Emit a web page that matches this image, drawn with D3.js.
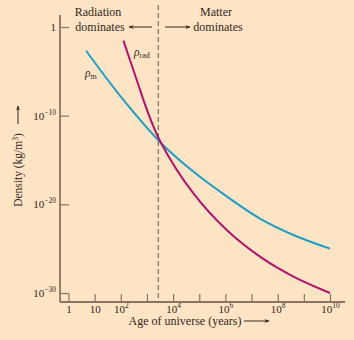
<!DOCTYPE html>
<html>
<head>
<meta charset="utf-8">
<script src="https://cdn.jsdelivr.net/npm/d3@7"></script>
<style>
  body { margin: 0; background: #fde4c4; }
  text { font-family: "Liberation Serif", "DejaVu Serif", serif; }
</style>
</head>
<body>
<div id="chart"></div>
<script>
// values: age in years, density in kg/m^3
const matterAge = [4.7, 126, 3.5e3, 5.9e4, 1.12e6, 2.1e7, 4e8, 1e10];
const matterDensity = [2.1e-3, 5.9e-9, 7.9e-14, 5e-17, 7.9e-20, 2.5e-22, 3.5e-24, 1e-25];
const radAge = [126, 407, 1.12e3, 3.5e3, 5.9e4, 1.12e6, 2.1e7, 4e8, 1e10];
const radDensity = [2.9e-2, 1.05e-6, 1.86e-10, 7.9e-14, 1.8e-19, 1.26e-23, 1.26e-26, 7.1e-29, 1e-30];
const equalityAge = 2.7e3;

const xTicks = [1, 1e1, 1e2, 1e3, 1e4, 1e5, 1e6, 1e7, 1e8, 1e9, 1e10];
const xTickLabels = [["1", ""], ["10", ""], ["10", "2"], ["", ""], ["10", "4"], ["", ""],
                     ["10", "6"], ["", ""], ["10", "8"], ["", ""], ["10", "10"]];
const yTicks = [1, 1e-10, 1e-20, 1e-30];
const yTickLabels = [["1", ""], ["10", "\u221210"], ["10", "\u221220"], ["10", "\u221230"]];

const width = 354, height = 340;
const bg = "#fde4c4", axisColor = "#8a7363", ink = "#35261e";

const svg = d3.select("#chart").append("svg")
  .attr("width", width).attr("height", height);

svg.append("rect").attr("width", width).attr("height", height).attr("fill", bg);

const defs = svg.append("defs");
defs.append("marker").attr("id", "head")
  .attr("viewBox", "0 0 10 10").attr("refX", 9).attr("refY", 5)
  .attr("markerWidth", 7).attr("markerHeight", 5).attr("orient", "auto")
  .append("path").attr("d", "M0,1 L10,5 L0,9 L3,5 Z").attr("fill", ink);

const x = d3.scaleLog().domain([1, 1e10]).range([68.5, 330]);
const y = d3.scaleLog().domain([1, 1e-30]).range([27, 293]);

// superscript helper
function supText(sel, parts) {
  sel.text(null);
  sel.append("tspan").text(parts[0]);
  if (parts[1]) sel.append("tspan").attr("dy", -5).attr("font-size", 7.5).text(parts[1]);
}

// x axis
const gx = svg.append("g").attr("transform", "translate(0,302)")
  .call(d3.axisBottom(x).tickValues(xTicks).tickSizeInner(-8).tickSizeOuter(0).tickPadding(3));
gx.select(".domain").remove();
gx.selectAll("line").attr("stroke", axisColor).attr("stroke-width", 1.2);
gx.selectAll("text").attr("font-size", 11).attr("fill", ink)
  .each(function (d, i) { supText(d3.select(this), xTickLabels[i]); });

// y axis
const gy = svg.append("g").attr("transform", "translate(60,0)")
  .call(d3.axisLeft(y).tickValues(yTicks).tickSizeInner(-9).tickSizeOuter(0).tickPadding(4));
gy.select(".domain").remove();
gy.selectAll("line").attr("stroke", axisColor).attr("stroke-width", 1.2);
gy.selectAll("text").attr("font-size", 11).attr("fill", ink)
  .each(function (d, i) { supText(d3.select(this), yTickLabels[i]); });

// axis lines
svg.append("line").attr("x1", 60).attr("x2", 60).attr("y1", 15).attr("y2", 302)
  .attr("stroke", axisColor).attr("stroke-width", 1.8);
svg.append("line").attr("x1", 60).attr("x2", 345).attr("y1", 302).attr("y2", 302)
  .attr("stroke", axisColor).attr("stroke-width", 1.8);

// equality line
svg.append("line").attr("x1", x(equalityAge)).attr("x2", x(equalityAge))
  .attr("y1", 5).attr("y2", 302)
  .attr("stroke", "#6e6058").attr("stroke-width", 1.1).attr("stroke-dasharray", "5,3");

// curves
const line = d3.line().x(d => x(d[0])).y(d => y(d[1])).curve(d3.curveCatmullRom.alpha(0.5));
svg.append("path").datum(d3.zip(matterAge, matterDensity))
  .attr("d", line).attr("fill", "none").attr("stroke", "#1c9ec8").attr("stroke-width", 2);
svg.append("path").datum(d3.zip(radAge, radDensity))
  .attr("d", line).attr("fill", "none").attr("stroke", "#b3126d").attr("stroke-width", 2);

// curve labels
const lm = svg.append("text").attr("x", 85).attr("y", 77).attr("font-size", 11.5).attr("fill", ink);
lm.append("tspan").attr("font-style", "italic").text("\u03c1");
lm.append("tspan").attr("dy", 2).attr("font-size", 8).text("m");
const lr = svg.append("text").attr("x", 134).attr("y", 56).attr("font-size", 11.5).attr("fill", ink);
lr.append("tspan").attr("font-style", "italic").text("\u03c1");
lr.append("tspan").attr("dy", 2).attr("font-size", 8).text("rad");

// era annotations
svg.append("text").attr("x", 98).attr("y", 16).attr("text-anchor", "middle")
  .attr("font-size", 12).attr("fill", ink).text("Radiation");
svg.append("text").attr("x", 100).attr("y", 31).attr("text-anchor", "middle")
  .attr("font-size", 12).attr("fill", ink).text("dominates");
svg.append("text").attr("x", 216).attr("y", 16).attr("text-anchor", "middle")
  .attr("font-size", 12).attr("fill", ink).text("Matter");
svg.append("text").attr("x", 218).attr("y", 31).attr("text-anchor", "middle")
  .attr("font-size", 12).attr("fill", ink).text("dominates");
svg.append("line").attr("x1", 152).attr("x2", 129).attr("y1", 27).attr("y2", 27)
  .attr("stroke", ink).attr("stroke-width", 1).attr("marker-end", "url(#head)");
svg.append("line").attr("x1", 165).attr("x2", 190).attr("y1", 27).attr("y2", 27)
  .attr("stroke", ink).attr("stroke-width", 1).attr("marker-end", "url(#head)");

// x label
svg.append("text").attr("x", 185).attr("y", 325).attr("text-anchor", "middle")
  .attr("font-size", 12).attr("fill", ink).text("Age of universe (years)");
svg.append("line").attr("x1", 244).attr("x2", 269).attr("y1", 321).attr("y2", 321)
  .attr("stroke", ink).attr("stroke-width", 1).attr("marker-end", "url(#head)");

// y label
const gl = svg.append("g").attr("transform", "translate(22,170) rotate(-90)");
const yl = gl.append("text").attr("text-anchor", "middle").attr("font-size", 11.5).attr("fill", ink);
yl.append("tspan").text("Density (kg/m");
yl.append("tspan").attr("dy", -4).attr("font-size", 7.5).text("3");
yl.append("tspan").attr("dy", 4).text(")");
gl.append("line").attr("x1", 46).attr("x2", 64).attr("y1", -4).attr("y2", -4)
  .attr("stroke", ink).attr("stroke-width", 1).attr("marker-end", "url(#head)");
</script>
</body>
</html>
